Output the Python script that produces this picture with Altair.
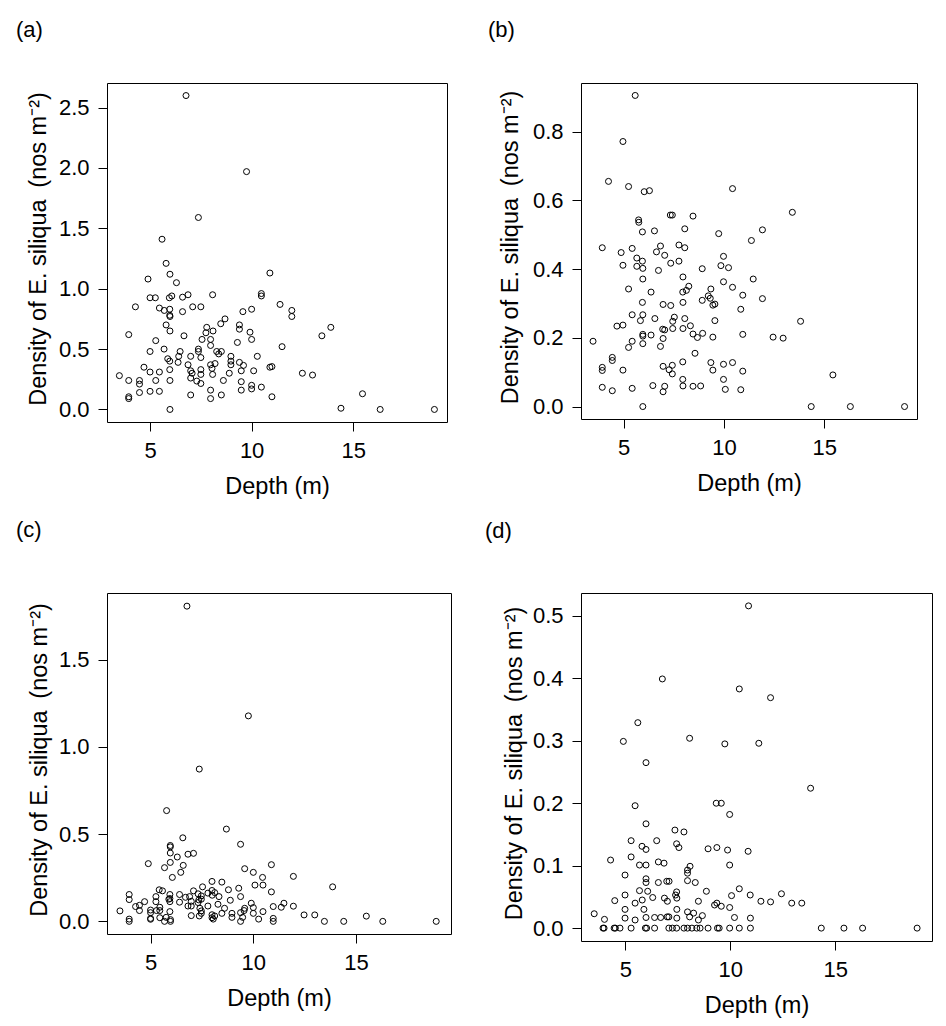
import altair as alt
import pandas as pd

# ---------------- data ----------------
a_depth = [6.77, 9.75, 7.38, 5.59, 5.79, 4.90, 5.98, 6.30, 10.90,
           5.00, 5.26, 5.95, 6.07, 6.60, 6.87, 8.08, 10.48, 10.48,
           4.28, 5.46, 5.70, 5.97, 5.97, 5.98, 6.60, 7.10, 7.50, 9.57, 10.00, 11.40, 11.98, 11.98,
           5.79, 5.98, 3.95, 6.67, 5.28, 7.79, 7.75, 8.10, 8.48, 8.69, 9.40, 9.40, 9.92, 10.00,
           7.56, 7.98, 7.98, 9.30, 13.46, 13.90, 11.50,
           5.00, 5.69, 5.87, 5.97, 6.48, 6.41, 7.38, 7.38, 7.50, 7.00, 8.28, 8.51, 8.38, 8.98, 8.98,
           8.98, 9.40, 9.60, 10.28,
           4.70, 5.00, 5.46, 5.97, 6.38, 6.87, 7.00, 7.07, 7.00, 7.30, 7.50, 7.50, 7.50, 7.98, 8.05,
           8.20, 8.08, 8.61, 8.90, 9.49, 10.10, 10.90, 11.00, 12.50, 13.00,
           3.49, 3.95, 4.48, 4.48, 5.28, 5.98, 4.48, 5.00, 5.46, 3.95, 3.95, 7.00, 7.98, 7.98, 8.51,
           9.49, 9.49, 10.00, 10.00, 10.48, 11.00,
           5.98, 14.40, 15.46, 16.33, 19.00]
a_density = [2.60, 1.97, 1.59, 1.41, 1.21, 1.08, 1.12, 1.05, 1.13,
             0.925, 0.925, 0.925, 0.94, 0.93, 0.95, 0.95, 0.96, 0.94,
             0.85, 0.84, 0.82, 0.83, 0.78, 0.77, 0.81, 0.85, 0.85, 0.81, 0.83, 0.87, 0.82, 0.77,
             0.70, 0.65, 0.62, 0.61, 0.57, 0.68, 0.635, 0.65, 0.71, 0.75, 0.70, 0.665, 0.64, 0.58,
             0.58, 0.58, 0.53, 0.555, 0.61, 0.68, 0.52,
             0.48, 0.50, 0.42, 0.40, 0.48, 0.44, 0.50, 0.48, 0.43, 0.44, 0.48, 0.48, 0.46, 0.44, 0.40,
             0.37, 0.39, 0.365, 0.44,
             0.35, 0.31, 0.31, 0.33, 0.39, 0.37, 0.32, 0.30, 0.26, 0.235, 0.33, 0.29, 0.215, 0.37, 0.34,
             0.38, 0.29, 0.24, 0.30, 0.32, 0.32, 0.35, 0.355, 0.30, 0.285,
             0.28, 0.24, 0.24, 0.21, 0.24, 0.24, 0.14, 0.15, 0.15, 0.105, 0.09, 0.12, 0.16, 0.09, 0.12,
             0.16, 0.23, 0.20, 0.17, 0.185, 0.105,
             0.0, 0.01, 0.13, 0.0, 0.0]

b_depth = [5.58, 4.97, 4.25, 5.25, 6.03, 6.29, 10.43, 5.75, 5.76, 7.33, 7.43, 8.46, 13.41,
           5.94, 6.54, 8.05, 9.74, 11.92, 11.37, 3.94, 4.88, 5.43, 5.66, 5.94, 4.97, 5.66, 5.96,
           6.64, 6.84, 7.05, 7.35, 7.76, 7.76, 8.05, 6.74, 8.92, 9.85, 10.23, 9.98,
           5.96, 7.96, 11.46, 5.25, 6.37, 7.95, 8.13, 8.25, 9.35, 9.98, 10.43, 10.94, 11.92,
           5.94, 6.97, 7.35, 7.96, 8.92, 9.22, 9.32, 9.45, 9.55, 10.84, 5.43, 5.96, 5.84, 6.56,
           7.53, 8.05, 7.45, 9.55, 4.67, 4.97, 7.45, 6.95, 7.05, 7.96, 8.33, 13.82, 3.48, 5.43,
           5.96, 5.96, 5.96, 6.37, 6.97, 6.84, 8.46, 8.68, 8.94, 9.45, 10.94, 12.45, 12.95, 5.25,
           8.56, 4.44, 4.44, 7.95, 9.35, 9.98, 10.43, 3.94, 3.94, 4.97, 6.97, 7.27, 7.43, 7.43,
           9.45, 10.94, 15.43, 7.95, 9.98, 3.94, 4.44, 5.43, 6.46, 6.97, 7.05, 7.96, 8.46, 8.84,
           10.07, 10.84, 5.96, 14.35, 16.30, 19.00]
b_density = [0.905, 0.771, 0.655, 0.640, 0.625, 0.628, 0.634, 0.543, 0.536, 0.557, 0.557, 0.554, 0.565,
             0.508, 0.511, 0.517, 0.503, 0.514, 0.483, 0.462, 0.448, 0.460, 0.432, 0.423, 0.411, 0.408, 0.402,
             0.450, 0.467, 0.440, 0.417, 0.470, 0.423, 0.462, 0.396, 0.401, 0.410, 0.404, 0.437,
             0.371, 0.377, 0.371, 0.342, 0.333, 0.333, 0.338, 0.350, 0.342, 0.363, 0.347, 0.324, 0.314,
             0.303, 0.297, 0.294, 0.303, 0.309, 0.322, 0.315, 0.295, 0.298, 0.283, 0.267, 0.267, 0.250, 0.256,
             0.260, 0.256, 0.248, 0.250, 0.234, 0.237, 0.227, 0.225, 0.223, 0.227, 0.235, 0.248, 0.190, 0.190,
             0.210, 0.205, 0.183, 0.208, 0.198, 0.175, 0.211, 0.201, 0.213, 0.202, 0.210, 0.202, 0.199, 0.172,
             0.155, 0.143, 0.134, 0.130, 0.128, 0.123, 0.128, 0.114, 0.105, 0.106, 0.117, 0.107, 0.120, 0.095,
             0.106, 0.103, 0.092, 0.079, 0.079, 0.056, 0.046, 0.053, 0.061, 0.043, 0.059, 0.060, 0.059, 0.060,
             0.050, 0.049, 0.0, 0.0, 0.0, 0.0]

c_depth = [6.77, 9.76, 7.37, 5.78, 8.69, 6.57, 9.38, 5.96, 5.96, 5.96, 6.30, 6.82, 7.09, 4.89, 5.96,
           6.59, 5.68, 6.47, 6.06, 9.58, 10.00, 10.88, 10.45, 11.95, 13.86, 7.53, 7.99, 8.47, 9.29,
           10.08, 10.47, 8.79, 10.88, 5.42, 5.58, 7.09, 3.96, 3.96, 4.71, 5.26, 5.26, 5.94, 5.94, 5.94,
           6.41, 6.41, 6.70, 6.90, 7.31, 7.47, 7.47, 7.79, 7.99, 8.00, 8.12, 8.33, 8.88, 9.38, 4.27,
           4.46, 4.46, 3.51, 5.00, 5.00, 5.00, 5.00, 5.29, 5.45, 5.45, 5.45, 5.76, 5.68, 5.94, 5.97,
           5.97, 5.89, 6.82, 6.98, 6.98, 6.98, 7.35, 7.31, 7.40, 7.47, 7.47, 7.37, 7.79, 7.99, 7.99,
           8.05, 8.12, 8.28, 8.47, 8.60, 8.96, 8.96, 9.38, 9.38, 9.48, 9.55, 9.58, 9.90, 10.00, 10.00,
           10.26, 10.47, 10.97, 10.97, 10.97, 11.36, 11.49, 11.95, 12.47, 12.99, 13.46, 14.40, 15.50,
           16.30, 18.90, 3.96, 3.96]
c_density = [1.807, 1.178, 0.873, 0.635, 0.529, 0.479, 0.442, 0.435, 0.427, 0.392, 0.369, 0.385, 0.390,
             0.331, 0.338, 0.321, 0.308, 0.281, 0.252, 0.302, 0.281, 0.325, 0.252, 0.258, 0.198, 0.198,
             0.229, 0.225, 0.190, 0.208, 0.208, 0.181, 0.169, 0.181, 0.175, 0.175, 0.154, 0.125, 0.113,
             0.142, 0.113, 0.154, 0.131, 0.113, 0.154, 0.110, 0.138, 0.142, 0.158, 0.146, 0.127, 0.162,
             0.177, 0.150, 0.165, 0.142, 0.121, 0.142, 0.085, 0.092, 0.062, 0.060, 0.065, 0.050, 0.017,
             0.012, 0.062, 0.081, 0.062, 0.021, 0.023, 0.0, 0.056, 0.010, 0.0, 0.127, 0.088, 0.088,
             0.033, 0.115, 0.123, 0.108, 0.075, 0.060, 0.046, 0.031, 0.088, 0.038, 0.021, 0.013, 0.031,
             0.098, 0.046, 0.075, 0.046, 0.023, 0.050, 0.0, 0.023, 0.062, 0.075, 0.104, 0.079, 0.046,
             0.013, 0.056, 0.085, 0.017, 0.0, 0.081, 0.104, 0.087, 0.037, 0.037, 0.0, 0.0, 0.030,
             0.0, 0.0, 0.013, 0.0]

d_depth = [10.87, 6.76, 10.43, 11.92, 5.59, 4.90, 8.06, 9.74, 11.36, 5.98,
           13.83, 5.46, 9.33, 9.57, 9.97, 5.98, 7.36, 7.79, 5.27, 6.49, 5.79, 5.98, 7.44, 7.55, 8.94,
           9.36, 9.87, 10.85, 4.29, 5.27, 5.67, 5.98, 6.57, 6.84, 8.08, 7.96, 7.96, 7.96, 9.97, 4.98,
           5.98, 5.98, 6.57, 6.97, 7.08, 8.33, 5.67, 6.06, 7.44, 7.39, 8.86, 10.43, 12.44, 4.98, 6.30,
           6.86, 7.45, 10.06, 10.95, 4.49, 5.80, 7.00, 8.48, 11.46, 11.92, 12.93, 13.41, 5.46, 9.25,
           9.36, 9.57, 9.97, 3.51, 4.98, 5.88, 7.45, 7.96, 8.25, 8.67, 4.00, 4.98, 5.46, 5.98, 6.39,
           6.68, 6.99, 7.07, 7.45, 8.06, 8.48, 10.20, 10.96,
           3.93, 3.98, 4.46, 4.52, 4.74, 5.27, 5.95, 6.01, 6.39, 7.07, 7.24, 7.44, 7.79, 7.96, 8.17,
           8.40, 8.56, 8.94, 9.39, 9.47, 9.97, 10.43, 10.96, 14.34, 15.42, 16.31, 18.91]
d_density = [0.516, 0.399, 0.383, 0.369, 0.329, 0.299, 0.304, 0.295, 0.296, 0.265,
             0.224, 0.196, 0.200, 0.200, 0.182, 0.167, 0.157, 0.154, 0.140, 0.140, 0.131, 0.126, 0.135,
             0.129, 0.127, 0.129, 0.125, 0.123, 0.109, 0.114, 0.101, 0.101, 0.106, 0.104, 0.099, 0.093,
             0.088, 0.076, 0.101, 0.085, 0.079, 0.073, 0.073, 0.075, 0.075, 0.073, 0.060, 0.059, 0.058,
             0.053, 0.059, 0.063, 0.055, 0.053, 0.049, 0.048, 0.048, 0.052, 0.053, 0.044, 0.045, 0.043,
             0.043, 0.043, 0.042, 0.040, 0.040, 0.040, 0.037, 0.040, 0.035, 0.033, 0.023, 0.030, 0.030,
             0.030, 0.026, 0.024, 0.020, 0.014, 0.016, 0.013, 0.017, 0.017, 0.017, 0.018, 0.018, 0.016,
             0.018, 0.013, 0.017, 0.016,
             0.0, 0.0, 0.0, 0.0, 0.0, 0.0, 0.0, 0.0, 0.0, 0.0, 0.0, 0.0, 0.0, 0.0, 0.0,
             0.0, 0.0, 0.0, 0.0, 0.0, 0.0, 0.0, 0.0, 0.0, 0.0, 0.0, 0.0]

x_ticks = [5, 10, 15]
a_yticks = [0.0, 0.5, 1.0, 1.5, 2.0, 2.5]
b_yticks = [0.0, 0.2, 0.4, 0.6, 0.8]
c_yticks = [0.0, 0.5, 1.0, 1.5]
d_yticks = [0.0, 0.1, 0.2, 0.3, 0.4, 0.5]
panel_labels = ["(a)", "(b)", "(c)", "(d)"]

X_TITLE = "Depth (m)"
Y_TITLE = "Density of E. siliqua\u2002(nos m\u207b\u00b2)"
FONT = "Liberation Sans"
X_DOMAIN = [2.88, 19.62]


def panel(depth, dens, ydomain, yticks, w, h, label, lx, ly, title_x):
    df = pd.DataFrame({"depth": depth, "density": dens})
    pts = alt.Chart(df).mark_point(
        shape="circle", filled=False, color="black", size=36, strokeWidth=1, opacity=1
    ).encode(
        x=alt.X("depth:Q",
                scale=alt.Scale(domain=X_DOMAIN, nice=False, zero=False),
                axis=alt.Axis(values=x_ticks, format="d", title=X_TITLE,
                              titleY=64, titleBaseline="middle")),
        y=alt.Y("density:Q",
                scale=alt.Scale(domain=ydomain, nice=False, zero=False),
                axis=alt.Axis(values=yticks, format=".1f", title=Y_TITLE,
                              titleX=title_x, titleY=h / 2 - 4, titleAngle=270,
                              titleBaseline="middle", titleAlign="center")),
    )
    lab = alt.Chart(pd.DataFrame({"t": [label]})).mark_text(
        align="left", baseline="top", fontSize=22, font=FONT, color="black"
    ).encode(x=alt.value(lx), y=alt.value(ly), text="t:N")
    return alt.layer(pts, lab).properties(width=w, height=h)


pa = panel(a_depth, a_density, [-0.104, 2.704], a_yticks, 340, 339, panel_labels[0], -91, -63, -69)
pb = panel(b_depth, b_density, [-0.0362, 0.9412], b_yticks, 336, 336, panel_labels[1], -93, -63, -71)
pc = panel(c_depth, c_density, [-0.0724, 1.8824], c_yticks, 344, 341, panel_labels[2], -91, -73, -68)
pd_ = panel(d_depth, d_density, [-0.02064, 0.53664], d_yticks, 351, 348, panel_labels[3], -96, -72, -67)

chart = alt.concat(
    pa, pb, pc, pd_, columns=2, spacing={"row": 171, "column": 130}, bounds="flush"
).properties(
    padding={"left": 7, "top": 10, "right": 5, "bottom": 5}, background="white"
).configure_view(
    stroke="black", strokeWidth=1
).configure_axis(
    grid=False, domain=False, ticks=True, tickColor="black", tickSize=9, tickWidth=1,
    labelFont=FONT, labelFontSize=22, labelColor="black", labelPadding=9,
    titleFont=FONT, titleFontSize=23.5, titleFontWeight="normal", titleColor="black",
)

chart.save("out.html", embed_options={"renderer": "svg", "actions": False})
